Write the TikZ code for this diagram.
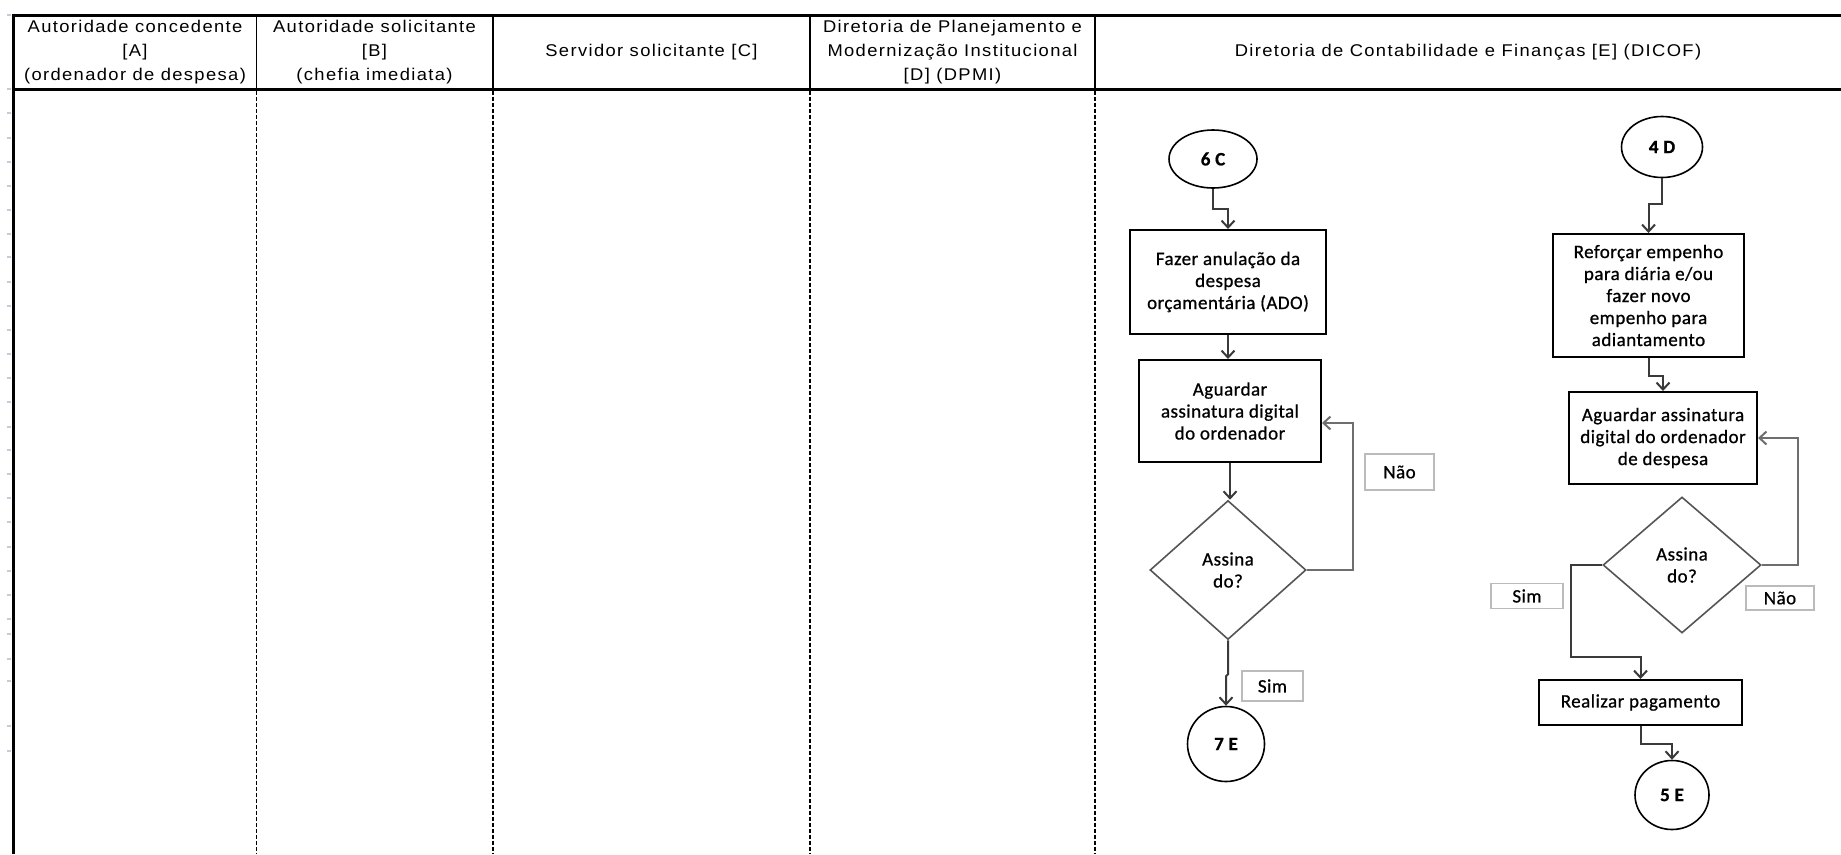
\documentclass[tikz,border=0pt]{standalone}
\usepackage{fontspec}
\setmainfont{Liberation Sans}
\newfontfamily\hdrfont[FakeStretch=1.08,LetterSpace=8]{Liberation Sans}
\newfontfamily\flowfont[LetterSpace=2.5,FakeBold=0.8]{Carlito}
\usetikzlibrary{shapes.geometric,arrows.meta,calc}

\definecolor{tickgray}{HTML}{C5CBD8}
\definecolor{linkgray}{HTML}{3A3A3A}
\definecolor{loopgray}{HTML}{6E6E6E}
\definecolor{diagray}{HTML}{555555}
\definecolor{taggray}{HTML}{BBBBBB}

\tikzset{
  frame/.style={line width=3pt, black},
  hdiv/.style={line width=1.5pt, black},
  lanediv/.style={line width=1.5pt, black, dash pattern=on 4pt off 2pt},
  rowtick/.style={line width=1.5pt, tickgray},
  hdrtext/.style={align=center, inner sep=0pt, font=\hdrfont\fontsize{17}{24}\selectfont},
  proc/.style={draw, line width=2pt, align=center, inner sep=0pt,
    font=\flowfont\fontsize{19}{22}\selectfont},
  term/.style={ellipse, draw, line width=1.6pt, inner sep=0pt,
    font=\flowfont\bfseries\fontsize{19}{22}\selectfont},
  decision/.style={diamond, draw=diagray, line width=1.6pt, inner sep=0pt, align=center,
    font=\flowfont\fontsize{19}{22}\selectfont},
  tagbox/.style={draw=taggray, line width=1.5pt, inner sep=0pt,
    font=\flowfont\fontsize{19}{22}\selectfont},
  link/.style={line width=2pt, linkgray, -{Straight Barb[length=7pt,width=13pt,line width=2pt]}},
  backlink/.style={line width=2.6pt, loopgray, -{Straight Barb[length=7pt,width=13pt,line width=2pt]}},
}

\begin{document}
\begin{tikzpicture}[x=1pt, y=-1pt]
\useasboundingbox (0,0) rectangle (1841,854);

% row marks along the left margin
\foreach \ty in {15,89,113,138,162,186,210,234,257,282,306,330,354,378,402,427,450,474,498,522,547,571,595,619,634,659,681,726,751}
  \draw[rowtick] (6.5,\ty) -- (11,\ty);

% table frame
\draw[frame] (13,13.5) -- (13,854);
\draw[frame] (11.5,15) -- (1841,15);
\draw[frame] (11.5,89) -- (1841,89);

% column dividers: solid in the header, dashed in the body
\foreach \cx in {256.5,493,810,1095} {
  \draw[hdiv] (\cx,15) -- (\cx,89);
  \draw[lanediv] (\cx,90.5) -- (\cx,854);
}

% column headings
\node[hdrtext] (hA) at (135,52) {Autoridade concedente\\{[A]}\\(ordenador de despesa)};
\node[hdrtext] (hB) at (374.5,52) {Autoridade solicitante\\{[B]}\\(chefia imediata)};
\node[hdrtext] (hC) at (651.5,52) {Servidor solicitante [C]};
\node[hdrtext] (hD) at (952.5,52) {Diretoria de Planejamento e\\Modernização Institucional\\{[D]} (DPMI)};
\node[hdrtext] (hE) at (1468,52) {Diretoria de Contabilidade e Finanças [E] (DICOF)};

% flow starting at connector 6 C
\node[term, minimum width=88pt, minimum height=58pt] (t6C) at (1213,159) {6 C};
\node[proc, minimum width=196pt, minimum height=104pt] (b1) at (1228,282)
  {Fazer anulação da\\despesa\\orçamentária (ADO)};
\node[proc, minimum width=182pt, minimum height=102pt] (b2) at (1230,411)
  {Aguardar\\assinatura digital\\do ordenador};
\node[decision, minimum width=156pt, minimum height=139pt] (d1) at (1228,570) {Assina\\do?};
\node[term, minimum width=77pt, minimum height=75pt] (t7E) at (1226,744) {7 E};
\node[tagbox, minimum width=69pt, minimum height=36pt] (nao1) at (1399.5,472) {Não};
\node[tagbox, minimum width=61pt, minimum height=30pt] (sim1) at (1272.5,686) {Sim};

\draw[link] (t6C.south) -- ++(0,20) -| (b1.north);
\draw[link] (b1.south) -- (b1.south |- b2.north);
\draw[link] (b2.south) -- (b2.south |- d1.north);
\draw[backlink] (d1.east) -- ++(46,0) |- ($(b2.east)+(0,12)$);
\draw[link] (d1.south) -- ++(0,34) -- ++(-2,2) -- (t7E.north);

% flow starting at connector 4 D
\node[term, minimum width=81pt, minimum height=61pt] (t4D) at (1662,147) {4 D};
\node[proc, minimum width=191pt, minimum height=123pt] (b3) at (1648.5,295.5)
  {Reforçar empenho\\para diária e/ou\\fazer novo\\empenho para\\adiantamento};
\node[proc, minimum width=188pt, minimum height=92pt] (b4) at (1663,438)
  {Aguardar assinatura\\digital do ordenador\\de despesa};
\node[decision, minimum width=158pt, minimum height=136pt] (d2) at (1682,565) {Assina\\do?};
\node[proc, minimum width=203pt, minimum height=45pt] (b5) at (1640.5,702.5) {Realizar pagamento};
\node[term, minimum width=74pt, minimum height=69pt] (t5E) at (1672,795) {5 E};
\node[tagbox, minimum width=68pt, minimum height=24pt] (nao2) at (1780,598) {Não};
\node[tagbox, minimum width=72pt, minimum height=25pt] (sim2) at (1527,596) {Sim};

\draw[link] (t4D.south) -- ++(0,26) -| (b3.north);
\draw[link] (b3.south) -- ++(0,18) -| (b4.north);
\draw[backlink] (d2.east) -- ++(36,0) |- (b4.east);
\draw[link] (d2.west) -| ($(b5.north)+(-70,-22)$) -| (b5.north);
\draw[link] (b5.south) -- ++(0,18) -| (t5E.north);
\end{tikzpicture}
\end{document}
